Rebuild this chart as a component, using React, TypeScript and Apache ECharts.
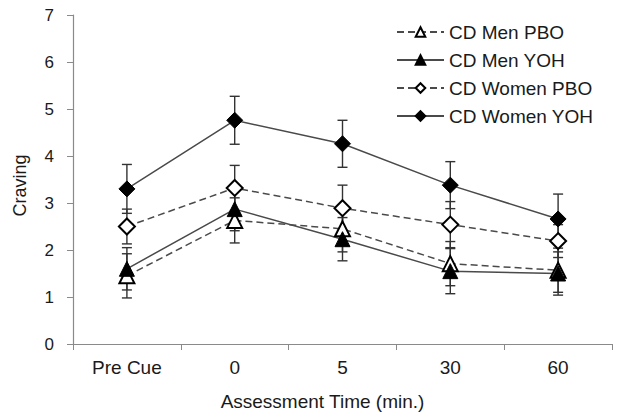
import React, { useEffect, useRef } from "react";
import * as echarts from "echarts";

const categories = ["Pre Cue", "0", "5", "30", "60"];
const yTicks = [0, 1, 2, 3, 4, 5, 6, 7];

const menPBO = [1.45, 2.63, 2.45, 1.71, 1.57];
const menYOH = [1.6, 2.87, 2.23, 1.55, 1.5];
const womenPBO = [2.5, 3.32, 2.89, 2.54, 2.19];
const womenYOH = [3.3, 4.76, 4.26, 3.38, 2.66];

const menPBOErr = [0.47, 0.48, 0.49, 0.47, 0.47];
const menYOHErr = [0.45, 0.46, 0.46, 0.48, 0.46];
const womenPBOErr = [0.37, 0.48, 0.49, 0.49, 0.35];
const womenYOHErr = [0.52, 0.51, 0.5, 0.5, 0.53];

const FONT = "'Liberation Sans', Arial, sans-serif";
const TEXT = "#1a1a1a";
const LINE = "#4a4a4a";

function errData(vals: number[], errs: number[]) {
  return vals.map((v, i) => [i, v - errs[i], v + errs[i]]);
}

function errorSeries(vals: number[], errs: number[]) {
  return {
    type: "custom",
    z: 1,
    silent: true,
    encode: { x: 0, y: [1, 2] },
    data: errData(vals, errs),
    renderItem: (params: any, api: any) => {
      const x = api.value(0);
      const lo = api.coord([x, api.value(1)]);
      const hi = api.coord([x, api.value(2)]);
      const half = 5;
      const style = { stroke: "#333", lineWidth: 1.4 };
      return {
        type: "group",
        children: [
          { type: "line", shape: { x1: hi[0], y1: hi[1], x2: lo[0], y2: lo[1] }, style },
          { type: "line", shape: { x1: hi[0] - half, y1: hi[1], x2: hi[0] + half, y2: hi[1] }, style },
          { type: "line", shape: { x1: lo[0] - half, y1: lo[1], x2: lo[0] + half, y2: lo[1] }, style },
        ],
      };
    },
  };
}

function lineSeries(name: string, data: number[], symbol: string, filled: boolean, dashed: boolean, size: number) {
  return {
    name,
    type: "line",
    data,
    z: 3,
    symbol,
    symbolSize: size,
    showAllSymbol: true,
    lineStyle: { color: LINE, width: 1.5, type: dashed ? [7, 4] : "solid" },
    itemStyle: {
      color: filled ? "#000" : "#fff",
      borderColor: "#000",
      borderWidth: filled ? 1 : 2,
    },
  };
}

export default function App() {
  const ref = useRef<HTMLDivElement>(null);
  useEffect(() => {
    if (!ref.current) return;
    const chart = echarts.init(ref.current, undefined, { renderer: "svg" });
    chart.setOption({
      animation: false,
      backgroundColor: "#fff",
      grid: { left: 73, right: 9, top: 15, bottom: 70 },
      legend: {
        orient: "vertical",
        left: 391,
        top: 17,
        itemWidth: 47,
        itemHeight: 12,
        itemGap: 8,
        data: ["CD Men PBO", "CD Men YOH", "CD Women PBO", "CD Women YOH"],
        textStyle: { fontFamily: FONT, fontSize: 19, color: TEXT, lineHeight: 20 },
      },
      xAxis: {
        type: "category",
        data: categories,
        boundaryGap: true,
        name: "Assessment Time (min.)",
        nameLocation: "middle",
        nameGap: 48,
        nameTextStyle: { fontFamily: FONT, fontSize: 19, color: TEXT, padding: [0, 40, 0, 0] },
        axisLine: { lineStyle: { color: "#8a8a8a", width: 1.2 } },
        axisTick: { show: true, inside: false, length: 6, lineStyle: { color: "#8a8a8a" } },
        axisLabel: { fontFamily: FONT, fontSize: 19, color: TEXT, margin: 14 },
        splitLine: { show: false },
      },
      yAxis: {
        type: "value",
        min: yTicks[0],
        max: yTicks[yTicks.length - 1],
        interval: 1,
        name: "Craving",
        nameLocation: "middle",
        nameGap: 44,
        nameRotate: 90,
        nameTextStyle: { fontFamily: FONT, fontSize: 18, color: TEXT, padding: [0, 0, 0, -12] },
        axisLine: { show: true, lineStyle: { color: "#8a8a8a", width: 1.2 } },
        axisTick: { show: true, inside: false, length: 6, lineStyle: { color: "#8a8a8a" } },
        axisLabel: { fontFamily: FONT, fontSize: 17, color: TEXT, margin: 19 },
        splitLine: { show: false },
      },
      series: [
        errorSeries(menPBO, menPBOErr),
        errorSeries(menYOH, menYOHErr),
        errorSeries(womenPBO, womenPBOErr),
        errorSeries(womenYOH, womenYOHErr),
        lineSeries("CD Men PBO", menPBO, "triangle", false, true, 15),
        lineSeries("CD Men YOH", menYOH, "triangle", true, false, 15),
        lineSeries("CD Women PBO", womenPBO, "diamond", false, true, 16),
        lineSeries("CD Women YOH", womenYOH, "diamond", true, false, 16),
      ],
    });
    return () => chart.dispose();
  }, []);
  return <div ref={ref} style={{ width: 621, height: 416, position: "absolute", left: 0, top: 0 }} />;
}
